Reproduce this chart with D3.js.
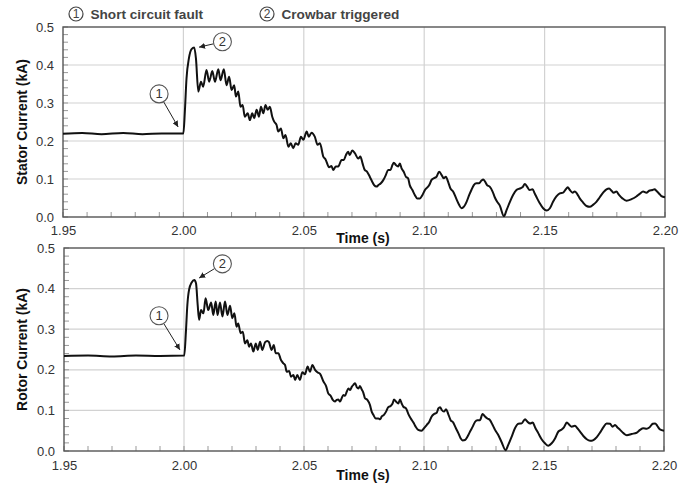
<!DOCTYPE html>
<html>
<head>
<meta charset="utf-8">
<script src="https://cdn.jsdelivr.net/npm/d3@7"></script>
<style>
  body { margin: 0; background: #fff; }
  svg { font-family: "Liberation Sans", Arial, Helvetica, sans-serif; }
</style>
</head>
<body>
<div id="chart"></div>
<script>
// time ticks and current ticks
const timeTicks = [1.95, 2.00, 2.05, 2.10, 2.15, 2.20];
const currentTicks = [0.0, 0.1, 0.2, 0.3, 0.4, 0.5];
const legendLabels = ["Short circuit fault", "Crowbar triggered"];

// stator current (kA) vs time (s)
const statorPoints = [
  [1.950,0.219],[1.958,0.221],[1.966,0.218],[1.975,0.221],[1.983,0.218],[1.991,0.220],[2.0000,0.220],
  [2.0006,0.277],[2.0013,0.365],[2.0023,0.418],[2.0034,0.442],[2.0045,0.446],[2.0052,0.418],[2.0062,0.330],
  [2.0073,0.356],[2.0082,0.343],[2.0096,0.387],[2.0107,0.356],[2.0120,0.384],[2.0131,0.356],[2.0145,0.389],
  [2.0154,0.360],[2.0168,0.389],[2.0179,0.347],[2.0190,0.369],[2.0200,0.334],[2.0211,0.347],[2.0218,0.317],
  [2.0228,0.330],[2.0237,0.290],[2.0246,0.295],[2.0255,0.264],[2.0267,0.273],[2.0276,0.255],[2.0286,0.273],
  [2.0294,0.260],[2.0304,0.282],[2.0314,0.264],[2.0322,0.290],[2.0332,0.273],[2.0341,0.295],[2.0350,0.282],
  [2.0359,0.290],[2.0369,0.264],[2.0377,0.251],[2.0387,0.242],[2.0394,0.225],[2.0405,0.233],[2.0415,0.207],
  [2.0424,0.216],[2.0436,0.185],[2.0446,0.194],[2.0456,0.181],[2.0466,0.194],[2.0477,0.190],[2.0488,0.211],
  [2.0498,0.203],[2.0512,0.225],[2.0521,0.211],[2.0532,0.222],[2.0546,0.211],[2.0557,0.190],[2.0567,0.194],
  [2.0581,0.159],[2.0590,0.152],[2.0605,0.131],[2.0615,0.134],[2.0622,0.124],[2.0633,0.133],[2.0643,0.133],
  [2.0657,0.150],[2.0666,0.150],[2.0675,0.163],[2.0684,0.172],[2.0691,0.163],[2.0701,0.175],[2.0712,0.168],
  [2.0726,0.154],[2.0735,0.159],[2.0744,0.141],[2.0753,0.124],[2.0763,0.119],[2.0774,0.106],[2.0784,0.093],
  [2.0792,0.084],[2.0802,0.080],[2.0810,0.084],[2.0820,0.089],[2.0830,0.097],[2.0841,0.111],[2.0850,0.124],
  [2.0860,0.124],[2.0868,0.137],[2.0874,0.143],[2.0882,0.137],[2.0892,0.133],[2.0899,0.141],[2.0906,0.128],
  [2.0915,0.119],[2.0924,0.106],[2.0933,0.102],[2.0940,0.084],[2.0951,0.071],[2.0961,0.058],[2.0971,0.049],
  [2.0982,0.049],[2.0993,0.058],[2.1003,0.071],[2.1021,0.084],[2.1030,0.097],[2.1040,0.102],[2.1051,0.106],
  [2.1062,0.119],[2.1072,0.111],[2.1081,0.102],[2.1090,0.106],[2.1099,0.093],[2.1109,0.075],[2.1120,0.067],
  [2.1134,0.047],[2.1145,0.032],[2.1155,0.023],[2.1165,0.027],[2.1176,0.040],[2.1187,0.058],[2.1196,0.071],
  [2.1206,0.084],[2.1217,0.089],[2.1228,0.089],[2.1238,0.096],[2.1245,0.099],[2.1253,0.093],[2.1261,0.084],
  [2.1272,0.080],[2.1284,0.067],[2.1293,0.052],[2.1303,0.040],[2.1314,0.030],[2.1331,0.002],[2.1342,0.018],
  [2.1356,0.040],[2.1369,0.058],[2.1383,0.071],[2.1397,0.075],[2.1408,0.078],[2.1418,0.087],[2.1427,0.080],
  [2.1438,0.071],[2.1450,0.073],[2.1459,0.062],[2.1469,0.049],[2.1480,0.036],[2.1494,0.023],[2.1508,0.017],
  [2.1522,0.023],[2.1535,0.040],[2.1549,0.054],[2.1563,0.062],[2.1577,0.064],[2.1588,0.073],[2.1596,0.078],
  [2.1605,0.071],[2.1616,0.064],[2.1625,0.067],[2.1635,0.061],[2.1646,0.049],[2.1660,0.038],[2.1674,0.029],
  [2.1688,0.027],[2.1701,0.032],[2.1715,0.040],[2.1729,0.052],[2.1743,0.064],[2.1757,0.073],[2.1768,0.075],
  [2.1778,0.069],[2.1787,0.064],[2.1798,0.067],[2.1809,0.058],[2.1823,0.049],[2.1840,0.043],[2.1861,0.047],
  [2.1881,0.054],[2.1895,0.061],[2.1909,0.067],[2.1923,0.064],[2.1934,0.069],[2.1948,0.071],[2.1957,0.073],
  [2.1964,0.069],[2.1975,0.062],[2.1985,0.055],[2.2000,0.052]
];

// rotor current (kA) vs time (s)
const rotorPoints = [
  [1.950,0.234],[1.960,0.235],[1.970,0.233],[1.980,0.235],[1.990,0.234],[2.0001,0.235],
  [2.0008,0.294],[2.0014,0.360],[2.0021,0.397],[2.0032,0.415],[2.0043,0.421],[2.0050,0.413],[2.0057,0.360],
  [2.0063,0.323],[2.0071,0.347],[2.0081,0.339],[2.0090,0.376],[2.0101,0.347],[2.0113,0.366],[2.0122,0.335],
  [2.0132,0.368],[2.0140,0.335],[2.0150,0.366],[2.0160,0.331],[2.0171,0.368],[2.0181,0.335],[2.0192,0.358],
  [2.0201,0.327],[2.0210,0.339],[2.0219,0.306],[2.0226,0.314],[2.0236,0.290],[2.0245,0.294],[2.0254,0.265],
  [2.0264,0.273],[2.0271,0.257],[2.0279,0.265],[2.0289,0.245],[2.0299,0.265],[2.0307,0.249],[2.0317,0.269],
  [2.0326,0.249],[2.0338,0.268],[2.0347,0.271],[2.0354,0.268],[2.0365,0.249],[2.0374,0.261],[2.0382,0.241],
  [2.0393,0.241],[2.0404,0.224],[2.0414,0.216],[2.0421,0.212],[2.0428,0.195],[2.0438,0.197],[2.0446,0.183],
  [2.0456,0.187],[2.0463,0.175],[2.0472,0.187],[2.0483,0.175],[2.0493,0.194],[2.0504,0.189],[2.0515,0.208],
  [2.0525,0.195],[2.0535,0.212],[2.0546,0.200],[2.0556,0.194],[2.0567,0.190],[2.0581,0.171],[2.0592,0.160],
  [2.0601,0.142],[2.0611,0.136],[2.0620,0.126],[2.0629,0.122],[2.0636,0.126],[2.0643,0.127],[2.0650,0.122],
  [2.0657,0.130],[2.0664,0.138],[2.0671,0.136],[2.0678,0.146],[2.0685,0.154],[2.0692,0.150],[2.0699,0.158],
  [2.0706,0.163],[2.0713,0.167],[2.0720,0.157],[2.0727,0.154],[2.0733,0.160],[2.0740,0.152],[2.0747,0.144],
  [2.0754,0.130],[2.0764,0.126],[2.0775,0.113],[2.0782,0.097],[2.0789,0.089],[2.0799,0.080],[2.0810,0.080],
  [2.0817,0.078],[2.0824,0.085],[2.0833,0.089],[2.0842,0.097],[2.0851,0.108],[2.0861,0.111],[2.0869,0.117],
  [2.0875,0.127],[2.0883,0.122],[2.0893,0.117],[2.0900,0.127],[2.0907,0.117],[2.0914,0.109],[2.0925,0.105],
  [2.0935,0.091],[2.0945,0.080],[2.0956,0.070],[2.0965,0.060],[2.0976,0.052],[2.0990,0.050],[2.1000,0.056],
  [2.1011,0.064],[2.1022,0.072],[2.1032,0.085],[2.1042,0.091],[2.1053,0.094],[2.1060,0.105],[2.1067,0.108],
  [2.1074,0.101],[2.1083,0.097],[2.1092,0.103],[2.1101,0.091],[2.1111,0.076],[2.1122,0.070],[2.1133,0.056],
  [2.1143,0.044],[2.1153,0.031],[2.1161,0.026],[2.1171,0.027],[2.1181,0.035],[2.1192,0.048],[2.1203,0.060],
  [2.1213,0.072],[2.1222,0.076],[2.1233,0.076],[2.1244,0.091],[2.1254,0.085],[2.1264,0.080],[2.1275,0.076],
  [2.1286,0.064],[2.1296,0.052],[2.1310,0.039],[2.1324,0.021],[2.1340,0.002],[2.1351,0.015],[2.1365,0.035],
  [2.1379,0.056],[2.1393,0.067],[2.1407,0.068],[2.1421,0.078],[2.1431,0.072],[2.1442,0.068],[2.1453,0.070],
  [2.1463,0.058],[2.1476,0.044],[2.1490,0.029],[2.1504,0.019],[2.1518,0.013],[2.1532,0.019],[2.1546,0.031],
  [2.1560,0.048],[2.1574,0.053],[2.1583,0.058],[2.1595,0.070],[2.1606,0.064],[2.1615,0.060],[2.1629,0.062],
  [2.1639,0.056],[2.1650,0.048],[2.1664,0.037],[2.1678,0.029],[2.1692,0.025],[2.1706,0.027],[2.1720,0.034],
  [2.1733,0.045],[2.1747,0.058],[2.1761,0.068],[2.1775,0.067],[2.1786,0.060],[2.1796,0.064],[2.1806,0.058],
  [2.1817,0.052],[2.1831,0.044],[2.1845,0.039],[2.1865,0.042],[2.1886,0.045],[2.1900,0.052],[2.1914,0.056],
  [2.1928,0.055],[2.1939,0.058],[2.1953,0.067],[2.1963,0.068],[2.1972,0.062],[2.1983,0.053],[2.2000,0.050]
];

// annotation markers: circle position and arrow tip, in data units
const statorNotes = [
  { label: "1", t: 1.9899, v: 0.324, tipT: 1.9978, tipV: 0.237 },
  { label: "2", t: 2.0162, v: 0.461, tipT: 2.0065, tipV: 0.447 }
];
const rotorNotes = [
  { label: "1", t: 1.9896, v: 0.333, tipT: 1.9983, tipV: 0.249 },
  { label: "2", t: 2.0160, v: 0.461, tipT: 2.0063, tipV: 0.426 }
];

const width = 692, height = 485;

const svg = d3.select("#chart").append("svg")
  .attr("width", width)
  .attr("height", height);

const defs = svg.append("defs");
defs.append("marker")
  .attr("id", "arrow")
  .attr("viewBox", "0 0 10 10")
  .attr("refX", 10)
  .attr("refY", 5)
  .attr("markerWidth", 6)
  .attr("markerHeight", 6)
  .attr("markerUnits", "userSpaceOnUse")
  .attr("orient", "auto")
  .append("path")
  .attr("d", "M0,0 L10,5 L0,10 z")
  .attr("fill", "#222");

// legend at the top
const legend = svg.append("g").attr("class", "legend");
const legendX = [76, 267];
legendLabels.forEach(function(label, i) {
  const g = legend.append("g").attr("transform", `translate(${legendX[i]},14)`);
  g.append("circle")
    .attr("r", 7)
    .attr("fill", "none")
    .attr("stroke", "#444")
    .attr("stroke-width", 1.2);
  g.append("text")
    .attr("y", 4.4)
    .attr("text-anchor", "middle")
    .style("font-size", "12px")
    .attr("fill", "#444")
    .text(i + 1);
  g.append("text")
    .attr("x", 14.5)
    .attr("y", 5.3)
    .style("font-size", "13.6px")
    .style("font-weight", "bold")
    .attr("fill", "#444")
    .text(label);
});

function drawPanel(cfg) {
  const x = d3.scaleLinear().domain([1.95, 2.20]).range([cfg.left, cfg.right]);
  const y = d3.scaleLinear().domain([0, 0.5]).range([cfg.bottom, cfg.top]);
  const g = svg.append("g");

  // grid
  g.append("g").selectAll("line").data(timeTicks.slice(1, -1)).enter().append("line")
    .attr("x1", d => x(d)).attr("x2", d => x(d))
    .attr("y1", cfg.top).attr("y2", cfg.bottom)
    .attr("stroke", "#d2d2d2").attr("stroke-width", 1.2);
  g.append("g").selectAll("line").data(currentTicks.slice(1, -1)).enter().append("line")
    .attr("x1", cfg.left).attr("x2", cfg.right)
    .attr("y1", d => y(d)).attr("y2", d => y(d))
    .attr("stroke", "#d2d2d2").attr("stroke-width", 1.2);

  // minor ticks, inside the plot on left and bottom
  const xMinor = d3.range(1.95, 2.2001, 0.01);
  const yMinor = d3.range(0, 0.5001, 0.02);
  g.append("g").selectAll("line").data(xMinor).enter().append("line")
    .attr("x1", d => x(d)).attr("x2", d => x(d))
    .attr("y1", cfg.bottom).attr("y2", cfg.bottom - 5)
    .attr("stroke", "#999").attr("stroke-width", 1);
  g.append("g").selectAll("line").data(yMinor).enter().append("line")
    .attr("x1", cfg.left).attr("x2", cfg.left + 5)
    .attr("y1", d => y(d)).attr("y2", d => y(d))
    .attr("stroke", "#999").attr("stroke-width", 1);

  // tick labels via d3 axes (no tick lines)
  const xAxis = d3.axisBottom(x).tickValues(timeTicks).tickFormat(d3.format(".2f")).tickSize(0).tickPadding(cfg.xPad);
  const yAxis = d3.axisLeft(y).tickValues(currentTicks).tickFormat(d3.format(".1f")).tickSize(0).tickPadding(9);

  const xa = g.append("g").attr("transform", `translate(0,${cfg.bottom})`).call(xAxis);
  const ya = g.append("g").attr("transform", `translate(${cfg.left},0)`).call(yAxis);
  [xa, ya].forEach(function(a) {
    a.select(".domain").remove();
    a.selectAll("text")
      .style("font-size", "13px")
      .style("font-family", "'Liberation Sans', Arial, sans-serif")
      .attr("fill", "#333");
  });

  // frame
  g.append("rect")
    .attr("x", cfg.left).attr("y", cfg.top)
    .attr("width", cfg.right - cfg.left).attr("height", cfg.bottom - cfg.top)
    .attr("fill", "none").attr("stroke", "#555").attr("stroke-width", 1.4);

  // data line
  const line = d3.line()
    .x(d => x(d[0]))
    .y(d => y(d[1]))
    .curve(d3.curveMonotoneX);
  g.append("path")
    .datum(cfg.points)
    .attr("d", line)
    .attr("fill", "none")
    .attr("stroke", "#111")
    .attr("stroke-width", 2)
    .attr("stroke-linejoin", "round");

  // annotations
  cfg.notes.forEach(function(n) {
    const cx = x(n.t), cy = y(n.v);
    const tx = x(n.tipT), ty = y(n.tipV);
    const r = 9;
    const dx = tx - cx, dy = ty - cy, len = Math.sqrt(dx * dx + dy * dy);
    g.append("line")
      .attr("x1", cx + dx / len * r).attr("y1", cy + dy / len * r)
      .attr("x2", tx).attr("y2", ty)
      .attr("stroke", "#222").attr("stroke-width", 1)
      .attr("marker-end", "url(#arrow)");
    g.append("circle")
      .attr("cx", cx).attr("cy", cy).attr("r", r)
      .attr("fill", "#fff").attr("stroke", "#555").attr("stroke-width", 1.1);
    g.append("text")
      .attr("x", cx).attr("y", cy + 4.6)
      .attr("text-anchor", "middle")
      .style("font-size", "13px")
      .attr("fill", "#333")
      .text(n.label);
  });

  // axis titles
  g.append("text")
    .attr("x", 363).attr("y", cfg.bottom + cfg.titleDy)
    .attr("text-anchor", "middle")
    .style("font-size", "14px").style("font-weight", "bold")
    .attr("fill", "#111")
    .text("Time (s)");
  g.append("text")
    .attr("transform", `translate(27,${(cfg.top + cfg.bottom) / 2}) rotate(-90)`)
    .attr("text-anchor", "middle")
    .style("font-size", "14px").style("font-weight", "bold")
    .attr("fill", "#111")
    .text(cfg.yTitle);
}

drawPanel({ left: 63, right: 665, top: 27, bottom: 217, points: statorPoints, notes: statorNotes,
            yTitle: "Stator Current (kA)", xPad: 9, titleDy: 26 });
drawPanel({ left: 64, right: 664, top: 248, bottom: 451, points: rotorPoints, notes: rotorNotes,
            yTitle: "Rotor Current (kA)", xPad: 10, titleDy: 29 });
</script>
</body>
</html>
